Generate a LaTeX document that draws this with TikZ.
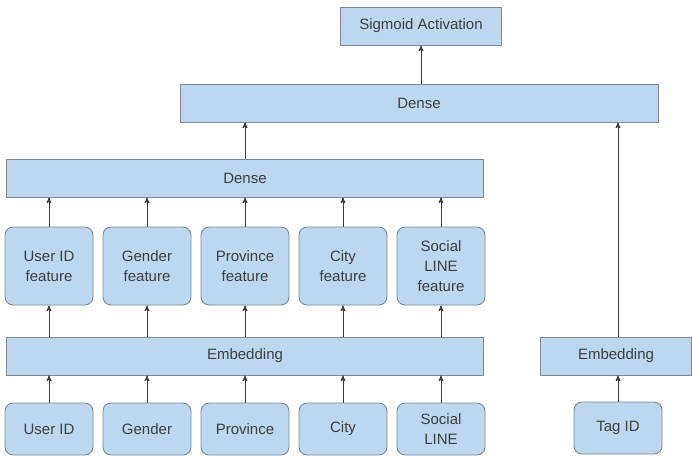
\documentclass[tikz,border=0pt]{standalone}
\usepackage{fontspec}
\setmainfont{Liberation Sans}
\usepackage{tikz}
\usetikzlibrary{arrows}

\definecolor{boxfill}{HTML}{BDD7EE}
\definecolor{boxline}{HTML}{7F8A94}
\definecolor{txt}{HTML}{3F3F3F}

\begin{document}
\begin{tikzpicture}[x=1pt,y=-1pt]
\tikzstyle{every node} = [font = \fontsize{15}{20}\selectfont, text = txt]
\tikzstyle{layer} = [draw = boxline, fill = boxfill, line width = 0.9pt, minimum height = 38pt, inner sep = 0pt]
\tikzstyle{feat} = [layer, rounded corners = 8pt, minimum width = 88pt, align = center]
\tikzstyle{flow} = [->, >=stealth', draw = txt, line width = 1pt]
\useasboundingbox (0,0) rectangle (692,455);

		% top
		\node [layer, minimum width = 161pt] (sigmoid) at (421,26) {Sigmoid Activation};
		\node [layer, minimum width = 478pt] (dense2) at (419,103) {Dense};
		\node [layer, minimum width = 477pt] (dense1) at (245,178) {Dense};
		% features
		\node [feat, minimum height = 78pt] (fuser) at (49,266) {User ID\\feature};
		\node [feat, minimum height = 78pt] (fgender) at (147,266) {Gender\\feature};
		\node [feat, minimum height = 78pt] (fprovince) at (245,266) {Province\\feature};
		\node [feat, minimum height = 78pt] (fcity) at (343,266) {City\\feature};
		\node [feat, minimum height = 78pt] (fsocial) at (441,266) {Social\\LINE\\feature};
		% embeddings
		\node [layer, minimum width = 477pt] (emb1) at (245,356) {Embedding};
		\node [layer, minimum width = 151pt] (emb2) at (616,356) {Embedding};
		% inputs
		\node [feat, minimum height = 52pt] (user) at (49,429) {User ID};
		\node [feat, minimum height = 52pt] (gender) at (147,429) {Gender};
		\node [feat, minimum height = 52pt] (province) at (245,429) {Province};
		\node [feat, minimum height = 52pt] (city) at (343,429) {City};
		\node [feat, minimum height = 52pt] (social) at (441,429) {Social\\LINE};
		\node [feat, minimum height = 52pt] (tag) at (618,428) {Tag ID};

		\foreach \a/\b in {user/fuser, gender/fgender, province/fprovince, city/fcity, social/fsocial}{
			\draw[flow] (\a.north) -- (\a.north |- emb1.south);
			\draw[flow] (\b.north |- emb1.north) -- (\b.south);
			\draw[flow] (\b.north) -- (\b.north |- dense1.south);
		}
		\draw[flow] (tag.north) -- (tag.north |- emb2.south);
		\draw[flow] (tag.north |- emb2.north) -- (tag.north |- dense2.south);
		\draw[flow] (dense1.north) -- (dense1.north |- dense2.south);
		\draw[flow] (sigmoid.south |- dense2.north) -- (sigmoid.south);

\end{tikzpicture}
\end{document}
